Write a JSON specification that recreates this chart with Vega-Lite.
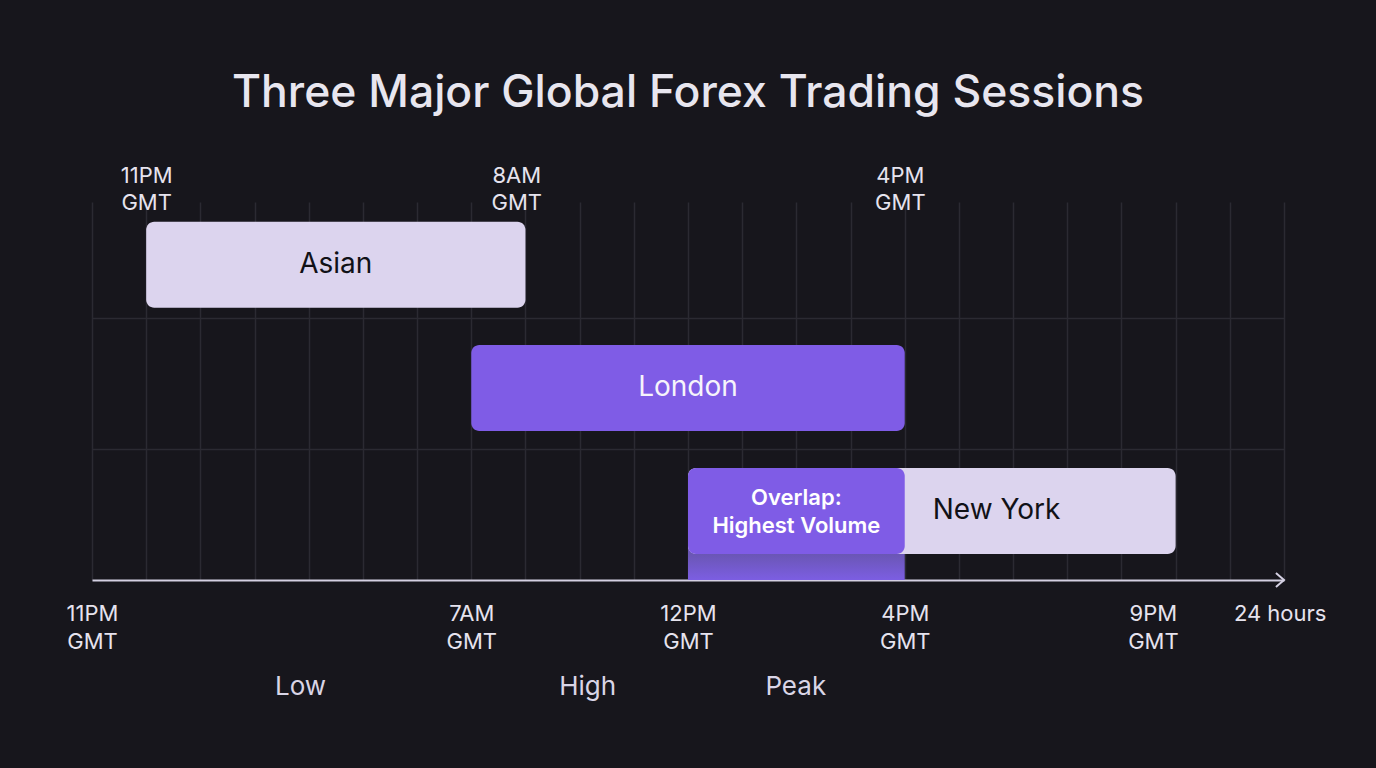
{
  "$schema": "https://vega.github.io/schema/vega-lite/v6.json",
  "width": 1192,
  "height": 378,
  "autosize": {"type": "none"},
  "padding": {"left": 92, "top": 202, "right": 92, "bottom": 188},
  "background": "#17161c",
  "config": {"view": {"stroke": null}, "font": "Inter"},
  "title": {
    "text": "Three Major Global Forex Trading Sessions",
    "fontSize": 44.5,
    "fontWeight": 500,
    "color": "#e8e6ef",
    "font": "Inter",
    "anchor": "middle",
    "baseline": "alphabetic",
    "offset": 13
  },
  "datasets": {
    "sessions": [
      {"session": "Asian", "lane": 3, "start": 1, "end": 8},
      {"session": "London", "lane": 2, "start": 7, "end": 15},
      {"session": "New York", "lane": 1, "start": 11, "end": 20}
    ],
    "overlap": [
      {"label": "Overlap:\nHighest Volume", "lane": 1, "start": 11, "end": 15}
    ]
  },
  "layer": [
    {
      "data": {"name": "overlap"},
      "mark": {
        "type": "rect",
        "fill": {
          "gradient": "linear", "x1": 0, "y1": 0, "x2": 0, "y2": 1,
          "stops": [
            {"offset": 0, "color": "#6a56b4"},
            {"offset": 0.62, "color": "#6a56b4"},
            {"offset": 1, "color": "#7c5ee2"}
          ]
        }
      },
      "encoding": {
        "x": {"field": "start", "type": "quantitative", "scale": {"domain": [0, 22], "nice": false, "zero": false, "padding": 0}, "axis": null},
        "x2": {"field": "end"},
        "y": {"field": "lane", "type": "quantitative", "scale": {"domain": [0.44, 3.51], "nice": false, "zero": false, "padding": 0}, "axis": null},
        "y2": {"datum": 0.44}
      }
    },
    {
      "data": {"name": "sessions"},
      "mark": {"type": "bar", "size": 86, "cornerRadius": 8},
      "encoding": {
        "x": {
          "field": "start", "type": "quantitative",
          "scale": {"domain": [0, 22], "nice": false, "zero": false, "padding": 0},
          "axis": {"orient": "top", "values": [0,1,2,3,4,5,6,7,8,9,10,11,12,13,14,15,16,17,18,19,20,21,22], "grid": true, "gridColor": "#2b2a32", "gridWidth": 1.5, "labels": false, "ticks": false, "domain": false, "title": null}
        },
        "x2": {"field": "end"},
        "y": {
          "field": "lane", "type": "quantitative",
          "scale": {"domain": [0.44, 3.51], "nice": false, "zero": false, "padding": 0},
          "axis": {"orient": "left", "values": [1.5, 2.57], "grid": true, "gridColor": "#2b2a32", "gridWidth": 1.5, "labels": false, "ticks": false, "domain": false, "title": null}
        },
        "color": {
          "field": "session", "type": "nominal",
          "scale": {"domain": ["Asian", "London", "New York"], "range": ["#dcd4ee", "#7f5ce6", "#dcd4ee"]},
          "legend": null
        }
      }
    },
    {
      "data": {"name": "overlap"},
      "mark": {"type": "bar", "size": 86, "cornerRadius": 8, "color": "#7f5ce6"},
      "encoding": {
        "x": {
          "field": "start", "type": "quantitative",
          "scale": {"domain": [0, 22], "nice": false, "zero": false, "padding": 0},
          "axis": {
            "orient": "bottom", "values": [0, 7, 11, 15, 19.58, 21.92],
            "labelExpr": "datum.value == 0 ? ['11PM','GMT'] : datum.value == 7 ? ['7AM','GMT'] : datum.value == 11 ? ['12PM','GMT'] : datum.value == 15 ? ['4PM','GMT'] : datum.value == 19.58 ? ['9PM','GMT'] : '24 hours'",
            "labelFont": "Inter", "labelFontSize": 22, "labelColor": "#e6e3ee", "labelLineHeight": 28,
            "labelPadding": 23, "labelFlush": false, "labelOverlap": false, "labelBound": false,
            "labelBaseline": "top",
            "ticks": false, "grid": false, "domain": true, "domainColor": "#d4d0e2", "domainWidth": 2, "title": null
          }
        },
        "x2": {"field": "end"},
        "y": {"field": "lane", "type": "quantitative", "scale": {"domain": [0.44, 3.51], "nice": false, "zero": false, "padding": 0}, "axis": null}
      }
    },
    {
      "data": {"name": "sessions"},
      "transform": [
        {"filter": "datum.session != 'New York'"},
        {"fold": ["start", "end"], "as": ["edge", "t"]}
      ],
      "mark": {"type": "text", "fontSize": 28, "font": "Inter", "fontWeight": 400, "align": "center", "baseline": "middle"},
      "encoding": {
        "x": {
          "aggregate": "mean", "field": "t", "type": "quantitative",
          "scale": {"domain": [0, 22], "nice": false, "zero": false, "padding": 0},
          "axis": {
            "orient": "top", "values": [1, 7.83, 14.91],
            "labelExpr": "datum.value == 1 ? ['11PM','GMT'] : datum.value == 7.83 ? ['8AM','GMT'] : ['4PM','GMT']",
            "labelFont": "Inter", "labelFontSize": 22, "labelColor": "#e6e3ee", "labelLineHeight": 27,
            "labelPadding": 15, "labelFlush": false, "labelOverlap": false, "labelBound": false,
            "labelBaseline": "bottom",
            "ticks": false, "grid": false, "domain": false, "title": null
          }
        },
        "y": {"field": "lane", "type": "quantitative", "scale": {"domain": [0.44, 3.51], "nice": false, "zero": false, "padding": 0}, "axis": null},
        "text": {"field": "session", "type": "nominal"},
        "color": {"condition": {"test": "datum.session == 'London'", "value": "#f6f4fb"}, "value": "#111117"}
      }
    },
    {
      "data": {"name": "overlap"},
      "transform": [
        {"fold": ["start", "end"], "as": ["edge", "t"]}
      ],
      "mark": {"type": "text", "fontSize": 22, "font": "Inter", "fontWeight": 600, "align": "center", "baseline": "middle", "lineBreak": "\n", "lineHeight": 28, "dy": -13, "color": "#ffffff"},
      "encoding": {
        "x": {
          "aggregate": "mean", "field": "t", "type": "quantitative",
          "scale": {"domain": [0, 22], "nice": false, "zero": false, "padding": 0},
          "axis": {
            "orient": "bottom", "values": [3.84, 9.14, 12.98],
            "labelExpr": "datum.value == 3.84 ? 'Low' : datum.value == 9.14 ? 'High' : 'Peak'",
            "labelFont": "Inter", "labelFontSize": 26, "labelColor": "#d9d5e6",
            "labelPadding": 93, "labelFlush": false, "labelOverlap": false, "labelBound": false,
            "labelBaseline": "top",
            "ticks": false, "grid": false, "domain": false, "title": null
          }
        },
        "y": {"field": "lane", "type": "quantitative", "scale": {"domain": [0.44, 3.51], "nice": false, "zero": false, "padding": 0}, "axis": null},
        "text": {"field": "label", "type": "nominal"}
      }
    },
    {
      "data": {"name": "sessions"},
      "transform": [{"filter": "datum.session == 'New York'"}],
      "mark": {"type": "text", "fontSize": 28, "font": "Inter", "fontWeight": 400, "align": "left", "baseline": "middle", "dx": 28, "color": "#111117"},
      "encoding": {
        "x": {"datum": 15, "type": "quantitative", "scale": {"domain": [0, 22], "nice": false, "zero": false, "padding": 0}, "axis": null},
        "y": {"field": "lane", "type": "quantitative", "scale": {"domain": [0.44, 3.51], "nice": false, "zero": false, "padding": 0}, "axis": null},
        "text": {"field": "session", "type": "nominal"}
      }
    },
    {
      "data": {"values": [{"end": 22}]},
      "mark": {"type": "point", "shape": "M-1.15,-1L0,0L-1.15,1", "filled": false, "stroke": "#d4d0e2", "strokeWidth": 2, "size": 196, "opacity": 1},
      "encoding": {
        "x": {"field": "end", "type": "quantitative", "scale": {"domain": [0, 22], "nice": false, "zero": false, "padding": 0}, "axis": null},
        "y": {"datum": 0.44, "type": "quantitative", "scale": {"domain": [0.44, 3.51], "nice": false, "zero": false, "padding": 0}, "axis": null}
      }
    }
  ],
  "resolve": {"axis": {"x": "independent", "y": "independent"}}
}
